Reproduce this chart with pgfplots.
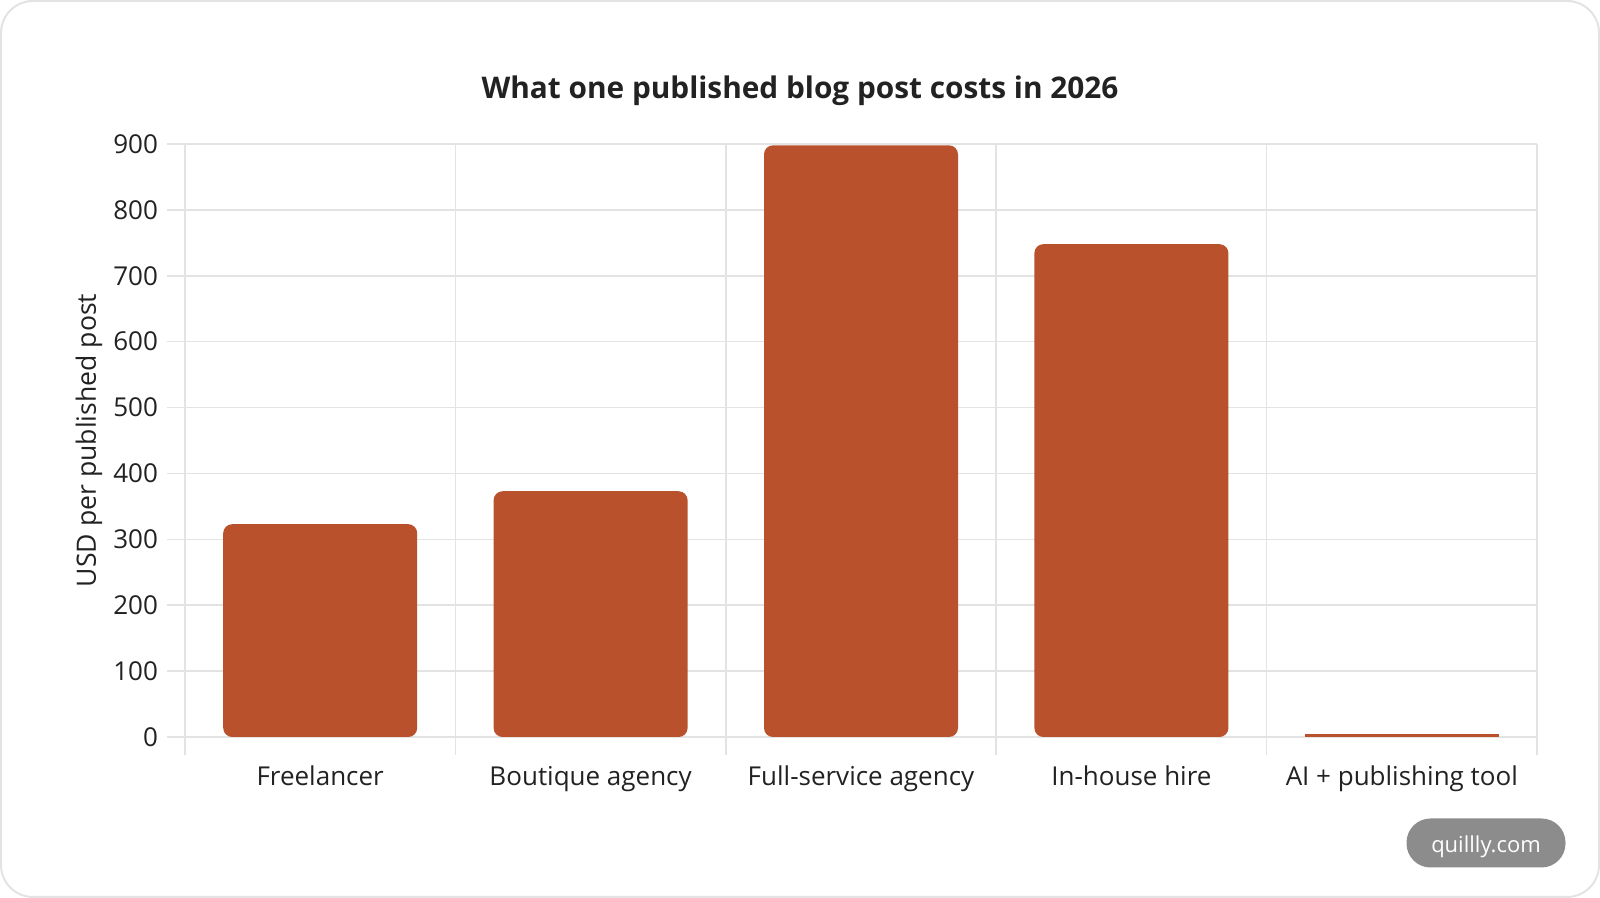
\documentclass[border=0pt]{standalone}
\usepackage{fontspec}
\setmainfont{Open Sans}
\usepackage{pgfplots}
\pgfplotsset{compat=1.18}
\definecolor{barc}{HTML}{B8512C}
\definecolor{gridc}{HTML}{E3E3E3}
\definecolor{txt}{HTML}{222222}
\begin{document}
\begin{tikzpicture}
\path[use as bounding box] (-92.5pt,-80.5pt) rectangle (707.5pt,368.5pt);
\draw[gridc, line width=1pt, rounded corners=16pt] (-92pt,-80pt) rectangle (707pt,368pt);
\begin{axis}[
  at={(0pt,0pt)}, anchor=south west,
  scale only axis, width=676pt, height=296.5pt,
  xmin=-0.5, xmax=4.5, ymin=0, ymax=900,
  axis line style={draw=none},
  tick pos=left,
  xtick={0,1,2,3,4},
  xticklabels={Freelancer, Boutique agency, Full-service agency, In-house hire, AI + publishing tool},
  major x tick style={draw=none},
  minor xtick={-0.5,0.5,1.5,2.5,3.5,4.5},
  xminorgrids,
  minor x tick style={gridc, line width=0.8pt},
  minor grid style={gridc, line width=0.8pt},
  ytick={0,100,...,900},
  ymajorgrids,
  major grid style={gridc, line width=0.8pt},
  y tick style={gridc, line width=0.8pt},
  tick align=outside,
  major tick length=9pt, minor tick length=9pt,
  ticklabel style={font=\fontsize{13}{15}\selectfont, text=txt},
  /pgf/number format/assume math mode=true,
  yticklabel style={xshift=-1pt},
  xticklabel style={yshift=-2pt},
  ylabel={USD per published post},
  ylabel style={font=\fontsize{13.3}{15}\selectfont, text=txt, at={(axis description cs:-0.071,0.5)}, anchor=center},
  clip=false,
]
\addplot[ybar, bar width=97pt, fill=barc, draw=none, rounded corners=4.5pt] coordinates {(0,323) (1,373) (2,898) (3,748)};
\addplot[ybar, bar width=97pt, fill=barc, draw=none] coordinates {(4,4)};
\end{axis}
\node[font=\bfseries\fontsize{14.9}{17}\selectfont, text=txt] at (307.5pt,323pt) {What one published blog post costs in 2026};
\node[fill=black!45, rounded corners=12pt, minimum width=79.5pt, minimum height=24.5pt, inner sep=0pt] at (650.5pt,-53pt) {};
\node[text=white, inner sep=0pt, font=\fontsize{11}{13}\selectfont] at (650.5pt,-55pt) {quillly.com};
\end{tikzpicture}
\end{document}
